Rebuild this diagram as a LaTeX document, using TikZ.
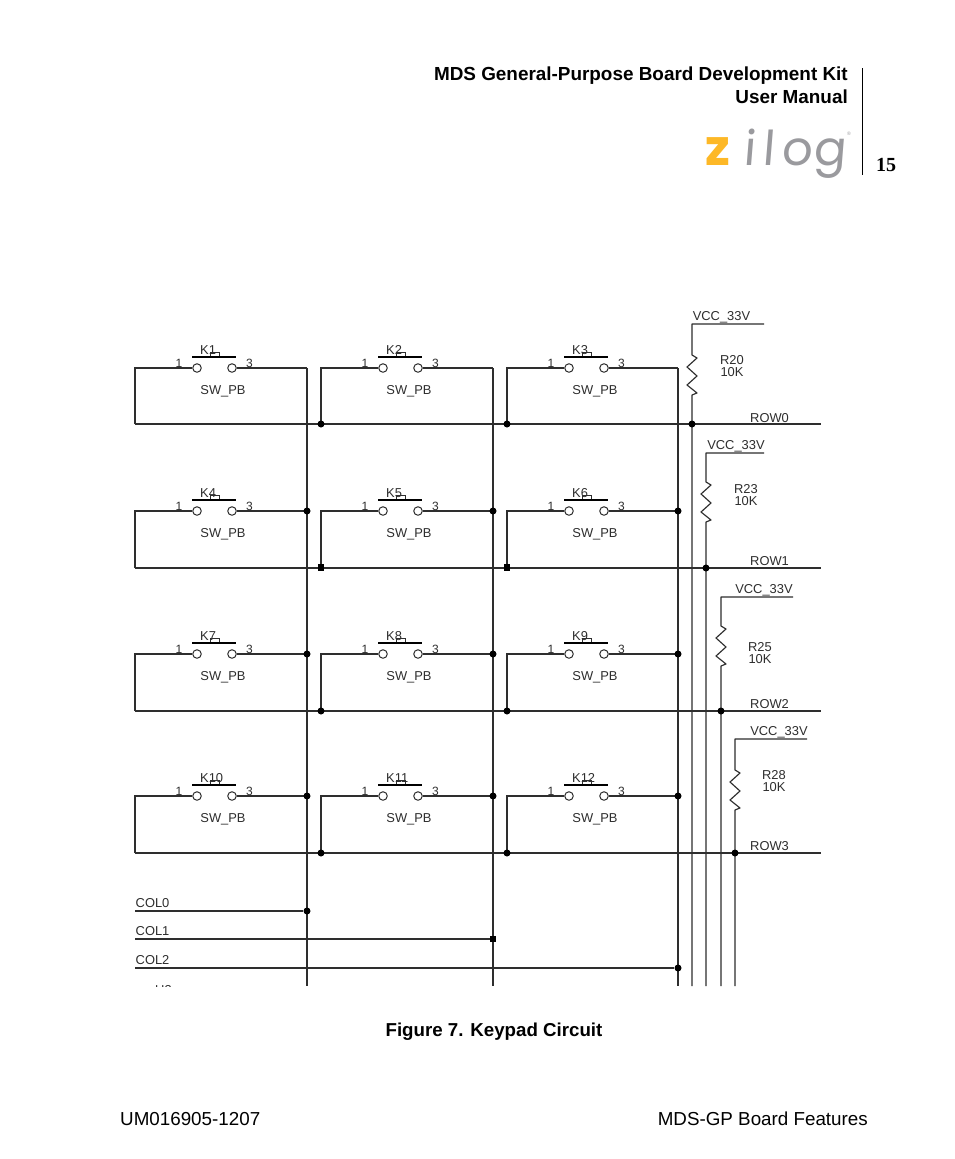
\documentclass[tikz,border=0pt]{standalone}
\usepackage{fontspec}
\setmainfont{Liberation Sans}
\newfontfamily\serifb{Liberation Serif}
\newfontfamily\logofont{Poppins}
\definecolor{wirec}{HTML}{2E2E2E}
\definecolor{zy}{HTML}{FDB827}
\definecolor{zg}{HTML}{9A9A9E}
\tikzset{
 wire/.style={draw=wirec,line width=1.15pt},
 lab/.style={font=\fontsize{12.9}{13}\selectfont,text=wirec,inner sep=0pt},
 numlab/.style={font=\fontsize{12}{12}\selectfont,text=wirec,inner sep=0pt},
 jn/.style={circle,fill=black,inner sep=0pt,minimum size=7pt},
 jq/.style={rectangle,fill=black,inner sep=0pt,minimum size=6.5pt},
 contact/.style={circle,draw=wirec,line width=1pt,fill=white,inner sep=0pt,minimum size=8.5pt},
 plunger/.style={rectangle,draw=wirec,line width=1pt,fill=white,inner sep=0pt,minimum width=9pt,minimum height=5.5pt},
 head/.style={font=\bfseries\fontsize{18.9}{21}\selectfont,inner sep=0pt,anchor=base east},
 foot/.style={font=\fontsize{18.8}{21}\selectfont,inner sep=0pt},
 logog/.style={font=\logofont\fontsize{48}{48}\selectfont\addfontfeature{FakeSlant=0.08},text=zg,inner sep=0pt,anchor=base},
}
\newcommand{\keycell}[5]{% left x, right x, top y, bottom y, label
 \coordinate (tl#5) at (#1,-#3);
 \coordinate (bl#5) at (#1,-#4);
 \coordinate (tr#5) at (#2,-#3);
 \node[contact] (ca#5) at (#1+62,-#3) {};
 \node[contact] (cb#5) at (#1+97,-#3) {};
 \coordinate (ba#5) at (#1+57,-#3+10.7);
 \coordinate (bb#5) at (#1+101,-#3+10.7);
 \draw[wire] (bl#5) -- (tl#5) -- (ca#5);
 \draw[wire] (cb#5) -- (tr#5);
 \node[plunger] (pl#5) at (#1+79.5,-#3+13) {};
 \draw[draw=black,line width=1.8pt] (ba#5) -- (bb#5);
 \node[lab,anchor=base west] (kl#5) at (#1+65,-#3+14) {K#5};
 \node[numlab] (na#5) at (#1+44,-#3+5) {1};
 \node[numlab] (nb#5) at (#1+114.5,-#3+4.5) {3};
 \node[lab] (sw#5) at (#1+88,-#3-23) {SW\_PB};
}
\begin{document}
\begin{tikzpicture}[x=1pt,y=1pt]
\useasboundingbox[fill=white] (0,0) rectangle (954,-1159);
% header
\node[head] (h1) at (848,-80) {MDS General-Purpose Board Development Kit};
\node[head] (h2) at (848,-103) {User Manual};
\coordinate (sa) at (862.5,-68);
\coordinate (sb) at (862.5,-175);
\draw[black,line width=.9pt] (sa) -- (sb);
\node[font=\serifb\bfseries\fontsize{20}{22}\selectfont,inner sep=0pt] (pg) at (886,-164.5) {15};
% logo
\node[font=\logofont\bfseries\fontsize{50}{50}\selectfont,text=zy,inner sep=0pt,anchor=base] (lz) at (718,-165) {z};
\node[logog] (li) at (749,-165) {i};
\node[logog] (ll) at (768,-165) {l};
\node[logog] (lo) at (797,-165) {o};
\node[logog] (lg) at (830,-165) {g};
\node[font=\fontsize{5}{5}\selectfont,text=zg,inner sep=0pt] (lr) at (849,-134) {®};
% cells
\keycell{135}{307}{368}{424}{1}
\keycell{321}{493}{368}{424}{2}
\keycell{507}{678}{368}{424}{3}
\keycell{135}{307}{511}{568}{4}
\keycell{321}{493}{511}{568}{5}
\keycell{507}{678}{511}{568}{6}
\keycell{135}{307}{654}{711}{7}
\keycell{321}{493}{654}{711}{8}
\keycell{507}{678}{654}{711}{9}
\keycell{135}{307}{796}{853}{10}
\keycell{321}{493}{796}{853}{11}
\keycell{507}{678}{796}{853}{12}
% column verticals
\coordinate (c0t) at (307,-368); \coordinate (c0b) at (307,-986);
\coordinate (c1t) at (493,-368); \coordinate (c1b) at (493,-986);
\coordinate (c2t) at (678,-368); \coordinate (c2b) at (678,-986);
\draw[wire] (c0t) -- (c0b);
\draw[wire] (c1t) -- (c1b);
\draw[wire] (c2t) -- (c2b);
% row lines
\coordinate (r0e) at (821,-424); \coordinate (r1e) at (821,-568);
\coordinate (r2e) at (821,-711); \coordinate (r3e) at (821,-853);
\draw[wire] (bl1) -- (r0e);
\draw[wire] (bl4) -- (r1e);
\draw[wire] (bl7) -- (r2e);
\draw[wire] (bl10) -- (r3e);
\node[lab,anchor=base west] (n0) at (750,-422) {ROW0};
\node[lab,anchor=base west] (n1) at (750,-565) {ROW1};
\node[lab,anchor=base west] (n2) at (750,-708) {ROW2};
\node[lab,anchor=base west] (n3) at (750,-850) {ROW3};
% column feeds
\coordinate (c0s) at (135,-911); \coordinate (c1s) at (135,-939); \coordinate (c2s) at (135,-968);
\node[jn] (jc0) at (307,-911) {};
\node[jq] (jc1) at (493,-939) {};
\node[jn] (jc2) at (678,-968) {};
\draw[wire] (c0s) -- (jc0);
\draw[wire] (c1s) -- (jc1);
\draw[wire] (c2s) -- (jc2);
\node[lab,anchor=base west] (cl0) at (135.5,-907) {COL0};
\node[lab,anchor=base west] (cl1) at (135.5,-935) {COL1};
\node[lab,anchor=base west] (cl2) at (135.5,-964) {COL2};
% resistors
\foreach \x/\ty/\tx/\za/\rn/\ry/\n/\lx/\ly/\vx in {692/324/764/355/R20/424/a/732/360/721.5, 706/453/764/482/R23/568/b/746/489/736, 721/597/793/626/R25/711/c/760/647/764, 735/739/807/770/R28/853/d/774/775/779}{
 \coordinate (vt\n) at (\x,-\ty);
 \coordinate (ve\n) at (\tx,-\ty);
 \coordinate (vb\n) at (\x,-986);
 \draw[wire,line join=round] (ve\n) -- (vt\n) -- (\x,-\za) -- ++(5,-3) -- ++(-10,-9) -- ++(10,-9) -- ++(-10,-9) -- ++(10,-8) -- ++(-5,-2) -- (vb\n);
 \node[lab,anchor=base] (vc\n) at (\vx,-\ty+4) {VCC\_33V};
 \node[lab] (rl\n) at (\lx,-\ly) {\rn};
 \node[lab] (rv\n) at (\lx,-\ly-12) {10K};
 \node[jn] (jr\n) at (\x,-\ry) {};
}
% junctions
\foreach \x/\y/\n in {321/424/a,507/424/b,307/511/c,493/511/d,678/511/e,307/654/f,493/654/g,678/654/h,321/711/i,507/711/j,307/796/k,493/796/l,678/796/m,321/853/n,507/853/o}
  \node[jn] (j\n) at (\x,-\y) {};
\node[jq] (jp) at (321,-567.5) {};
\node[jq] (jq) at (507,-567.5) {};
% bottom clipped label
\begin{scope}
\clip (150,-982) rectangle (180,-986);
\node[lab,anchor=south west] (cl3) at (155,-995) {U3};
\end{scope}
% caption and footer
\node[font=\bfseries\fontsize{18.7}{21}\selectfont,inner sep=0pt,anchor=base] (cap) at (494,-1036) {Figure 7. Keypad Circuit};
\node[foot,anchor=base west] (fl) at (120,-1125) {UM016905-1207};
\node[foot,anchor=base east] (fr) at (868,-1125) {MDS-GP Board Features};
\end{tikzpicture}
\end{document}
